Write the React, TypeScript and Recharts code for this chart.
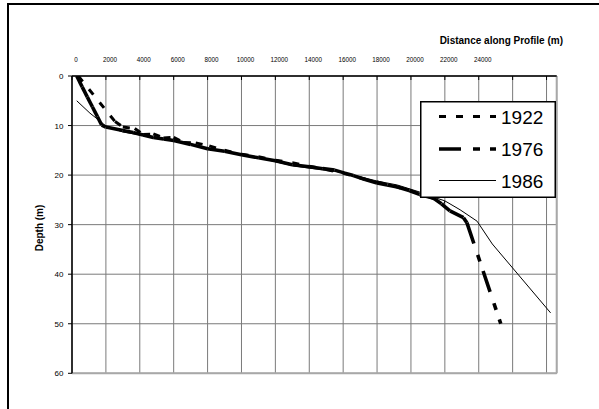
import React from "react";
import { LineChart, Line, XAxis, YAxis, CartesianGrid, ReferenceLine } from "recharts";

// Survey years shown
const years = ["1922", "1976", "1986"];

// 1922 profile: distance along profile (m) and depth (m)
const dist1922 = [370, 2540, 3000, 3700, 4200, 4800, 5400, 6000, 6600, 7300, 8100, 9000, 10000, 11000, 12000, 13000, 14000, 15000, 16000, 17000, 18000, 19000, 20000, 21000, 22000];
const depth1922 = [0, 9.2, 10.3, 10.6, 11.8, 11.7, 12.5, 12.4, 13.4, 13.5, 14.1, 15.0, 15.8, 16.3, 17.0, 17.5, 18.2, 18.9, 19.6, 20.6, 21.4, 22.2, 23.2, 24.3, 25.6];

// 1976 profile
const dist1976 = [280, 600, 900, 1200, 1500, 1750, 2000, 3000, 3600, 4200, 4800, 5400, 6000, 7000, 8000, 9000, 10000, 11000, 12000, 13000, 14000, 14800, 15500, 16100, 16600, 17300, 18000, 18600, 19200, 19900, 20500, 21300, 21800, 22300, 23100, 23300, 25300];
const depth1976 = [0, 2.2, 4.2, 6.2, 8.2, 9.9, 10.3, 11.0, 11.4, 11.9, 12.4, 12.7, 13.0, 13.8, 14.7, 15.2, 15.9, 16.5, 17.1, 17.9, 18.3, 18.7, 19.0, 19.6, 20.1, 20.9, 21.6, 22.0, 22.4, 23.1, 23.9, 24.6, 25.8, 27.2, 28.6, 29.6, 50];

// 1986 profile
const dist1986 = [280, 1060, 1650, 2000, 3000, 4000, 5000, 6000, 7000, 8000, 9000, 10000, 11000, 12000, 13000, 14000, 15500, 16600, 18000, 19200, 20500, 21300, 22000, 22900, 23900, 24800, 28240];
const depth1986 = [5.0, 7.5, 9.1, 10.1, 11.3, 11.9, 12.6, 13.1, 13.8, 14.6, 15.2, 15.8, 16.5, 17.3, 18.1, 18.6, 19.2, 20.0, 21.2, 22.0, 23.4, 24.4, 25.2, 27.0, 29.3, 33.9, 47.8];

// Axis ticks
const distTicks = [0, 2000, 4000, 6000, 8000, 10000, 12000, 14000, 16000, 18000, 20000, 22000, 24000, 26000, 28000];
const lastDistLabel = 24000;
const depthTicks = [0, 10, 20, 30, 40, 50, 60];
const distMax = 28600;

const FONT = "'Liberation Sans', Arial, sans-serif";

type Pt = { dist: number; depth: number };
const toPoints = (d: number[], z: number[]): Pt[] => d.map((v, i) => ({ dist: v, depth: z[i] }));
// Split a profile into single segments so each segment starts its dash pattern afresh
const toSegments = (pts: Pt[]): Pt[][] => pts.slice(1).map((p, i) => [pts[i], p]);

const p1922 = toPoints(dist1922, depth1922);
const p1976 = toPoints(dist1976, depth1976);
const p1986 = toPoints(dist1986, depth1986);

const styles = {
  "1922": { width: 3, dash: "7 10" },
  "1976": { width: 3.6, dash: "22 12 7 10" },
  "1986": { width: 1, dash: undefined as string | undefined },
};

const XTick = (props: any) => {
  const { x, y, payload } = props;
  if (payload.value > lastDistLabel) return null;
  return (
    <text x={x + 4} y={y} textAnchor="middle" fontSize={6.3} fontFamily={FONT} fill="#000">
      {payload.value}
    </text>
  );
};

const YTick = (props: any) => {
  const { x, y, payload } = props;
  return (
    <text x={x} y={y + 3} textAnchor="end" fontSize={8} fontFamily={FONT} fill="#000">
      {payload.value}
    </text>
  );
};

function LegendBox() {
  const rows = [
    { year: years[0], y: 15.5 },
    { year: years[1], y: 48 },
    { year: years[2], y: 79.5 },
  ];
  return (
    <svg width={136} height={97} style={{ position: "absolute", left: 420, top: 101 }}>
      <rect x={0.75} y={0.75} width={134.5} height={95.5} fill="#fff" stroke="#000" strokeWidth={1.5} />
      {rows.map((r) => {
        const s = styles[r.year as keyof typeof styles];
        return (
          <g key={r.year}>
            <line x1={19} x2={76} y1={r.y} y2={r.y} stroke="#000" strokeWidth={s.width} strokeDasharray={s.dash} />
            <text x={81} y={r.y + 7} fontSize={19} fontFamily={FONT} fill="#000">
              {r.year}
            </text>
          </g>
        );
      })}
    </svg>
  );
}

export default function App() {
  return (
    <div style={{ position: "fixed", left: 0, top: 0, width: 599, height: 409, background: "#fff", overflow: "hidden" }}>
      <div style={{ position: "absolute", left: 7, top: 2.5, width: 700, height: 500, border: "2px solid #000" }} />
      <div style={{ position: "absolute", left: 0, top: 0 }}>
        <LineChart width={599} height={409} margin={{ top: 56, right: 42.3, bottom: 35.7, left: 0 }}>
          <CartesianGrid stroke="#7a7a7a" strokeWidth={1} />
          <XAxis
            xAxisId={0}
            type="number"
            dataKey="dist"
            orientation="top"
            domain={[0, distMax]}
            allowDataOverflow
            ticks={distTicks}
            interval={0}
            height={20}
            tickSize={-4}
            tickMargin={18}
            tick={<XTick />}
            axisLine={{ stroke: "#000", strokeWidth: 1.5 }}
            tickLine={{ stroke: "#000" }}
          />
          <YAxis
            yAxisId={0}
            type="number"
            dataKey="depth"
            reversed
            domain={[0, 60]}
            allowDataOverflow
            ticks={depthTicks}
            interval={0}
            width={72}
            tickSize={4}
            tickMargin={4.5}
            tick={<YTick />}
            axisLine={{ stroke: "#000", strokeWidth: 1.5 }}
            tickLine={{ stroke: "#000" }}
          />
          <ReferenceLine x={distMax} stroke="#a8a8a8" strokeWidth={2} />
          <ReferenceLine y={60} stroke="#a8a8a8" strokeWidth={2} />
          {toSegments(p1922).map((seg, i) => (
            <Line
              key={"a" + i}
              data={seg}
              dataKey="depth"
              stroke="#000"
              strokeWidth={styles["1922"].width}
              strokeDasharray={styles["1922"].dash}
              dot={false}
              activeDot={false}
              isAnimationActive={false}
              legendType="none"
            />
          ))}
          {toSegments(p1976).map((seg, i) => (
            <Line
              key={"b" + i}
              data={seg}
              dataKey="depth"
              stroke="#000"
              strokeWidth={styles["1976"].width}
              strokeDasharray={styles["1976"].dash}
              dot={false}
              activeDot={false}
              isAnimationActive={false}
              legendType="none"
            />
          ))}
          <Line
            data={p1986}
            dataKey="depth"
            stroke="#000"
            strokeWidth={styles["1986"].width}
            dot={false}
            activeDot={false}
            isAnimationActive={false}
            legendType="none"
          />
        </LineChart>
      </div>
      <div
        style={{
          position: "absolute",
          right: 599 - 563,
          top: 35,
          fontFamily: FONT,
          fontWeight: "bold",
          fontSize: 10,
          whiteSpace: "nowrap",
          color: "#000",
        }}
      >
        Distance along Profile (m)
      </div>
      <div
        style={{
          position: "absolute",
          left: 39,
          top: 228,
          transform: "translate(-50%, -50%) rotate(-90deg)",
          fontFamily: FONT,
          fontWeight: "bold",
          fontSize: 10,
          whiteSpace: "nowrap",
          color: "#000",
        }}
      >
        Depth (m)
      </div>
      <LegendBox />
    </div>
  );
}
